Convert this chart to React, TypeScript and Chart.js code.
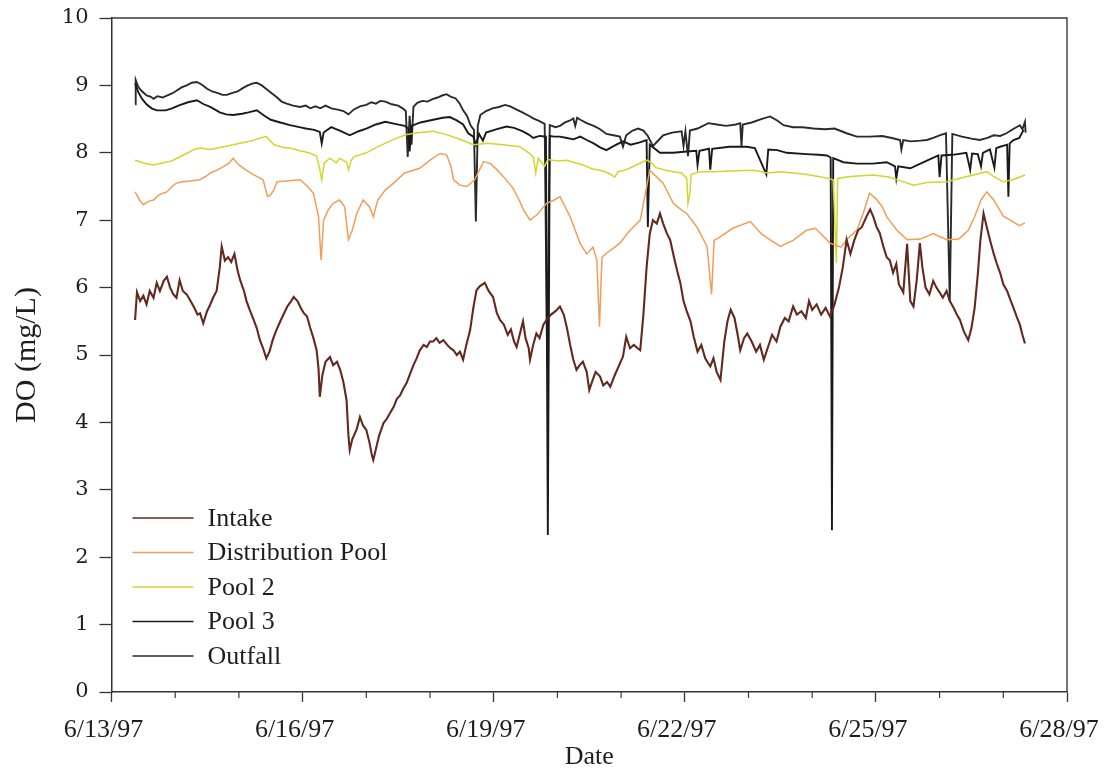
import { useEffect, useRef } from "react";
import { Chart, registerables } from "chart.js";

Chart.register(...registerables);

// x values are days after 6/13/97 00:00
const dateLabels = ["6/13/97", "6/16/97", "6/19/97", "6/22/97", "6/25/97", "6/28/97"];
const seriesNames = ["Intake", "Distribution Pool", "Pool 2", "Pool 3", "Outfall"];
const seriesColors = ["#62291f", "#f29d58", "#d2d52e", "#1a1a1a", "#2a2a2a"];
const seriesWidths = [2.1, 1.5, 1.5, 1.9, 1.9];

const intake: number[][] = [
  [0.37, 5.52], [0.40, 5.93], [0.45, 5.80], [0.50, 5.88], [0.55, 5.75], [0.60, 5.95], [0.66, 5.85], [0.71, 6.07],
  [0.76, 5.95], [0.82, 6.10], [0.87, 6.16], [0.92, 6.00], [0.97, 5.90], [1.02, 5.85], [1.07, 6.11], [1.12, 5.95],
  [1.18, 5.90], [1.23, 5.82], [1.30, 5.70], [1.35, 5.60], [1.39, 5.62], [1.44, 5.47], [1.50, 5.65], [1.55, 5.75],
  [1.60, 5.86], [1.65, 5.95], [1.70, 6.30], [1.73, 6.61], [1.78, 6.40], [1.83, 6.45], [1.88, 6.38], [1.93, 6.50],
  [1.98, 6.25], [2.02, 6.11], [2.08, 5.95], [2.12, 5.80], [2.17, 5.67], [2.22, 5.55], [2.28, 5.40], [2.33, 5.22],
  [2.38, 5.10], [2.43, 4.95], [2.48, 5.05], [2.53, 5.22], [2.58, 5.35], [2.65, 5.50], [2.70, 5.60], [2.76, 5.72],
  [2.82, 5.80], [2.86, 5.86], [2.92, 5.80], [2.97, 5.70], [3.02, 5.62], [3.07, 5.57], [3.12, 5.40], [3.17, 5.25],
  [3.22, 5.07], [3.25, 4.80], [3.27, 4.38], [3.31, 4.70], [3.36, 4.90], [3.43, 4.97], [3.48, 4.85], [3.54, 4.90],
  [3.59, 4.78], [3.64, 4.60], [3.69, 4.33], [3.72, 3.80], [3.74, 3.59], [3.78, 3.75], [3.85, 3.90], [3.90, 4.08],
  [3.95, 3.95], [4.00, 3.89], [4.05, 3.70], [4.09, 3.50], [4.11, 3.44], [4.15, 3.60], [4.20, 3.80], [4.27, 3.99],
  [4.32, 4.05], [4.38, 4.15], [4.43, 4.23], [4.48, 4.35], [4.53, 4.40], [4.58, 4.50], [4.63, 4.58], [4.68, 4.70],
  [4.74, 4.85], [4.79, 4.95], [4.84, 5.07], [4.90, 5.15], [4.95, 5.12], [5.00, 5.20], [5.05, 5.20], [5.10, 5.25],
  [5.15, 5.18], [5.21, 5.22], [5.27, 5.15], [5.32, 5.10], [5.37, 5.07], [5.42, 5.00], [5.47, 5.05], [5.52, 4.93],
  [5.57, 5.15], [5.63, 5.37], [5.68, 5.70], [5.73, 5.96], [5.78, 6.02], [5.86, 6.07], [5.92, 5.95], [5.99, 5.86],
  [6.05, 5.62], [6.10, 5.52], [6.16, 5.45], [6.22, 5.30], [6.27, 5.38], [6.32, 5.20], [6.36, 5.12], [6.42, 5.35],
  [6.46, 5.50], [6.50, 5.25], [6.55, 5.10], [6.57, 4.93], [6.62, 5.15], [6.67, 5.32], [6.72, 5.25], [6.78, 5.45],
  [6.83, 5.52], [6.90, 5.60], [6.97, 5.65], [7.04, 5.72], [7.10, 5.60], [7.15, 5.40], [7.20, 5.15], [7.25, 4.93],
  [7.30, 4.78], [7.35, 4.85], [7.40, 4.90], [7.46, 4.75], [7.50, 4.48], [7.55, 4.62], [7.60, 4.75], [7.67, 4.68],
  [7.72, 4.55], [7.78, 4.60], [7.83, 4.53], [7.90, 4.70], [7.97, 4.85], [8.03, 4.98], [8.08, 5.27], [8.14, 5.10],
  [8.20, 5.15], [8.26, 5.10], [8.30, 5.07], [8.35, 5.60], [8.40, 6.30], [8.45, 6.80], [8.50, 7.00], [8.56, 6.95],
  [8.61, 7.10], [8.66, 6.95], [8.72, 6.80], [8.77, 6.71], [8.83, 6.45], [8.88, 6.25], [8.93, 6.07], [8.98, 5.80],
  [9.03, 5.65], [9.09, 5.50], [9.14, 5.27], [9.20, 5.05], [9.26, 5.15], [9.32, 4.95], [9.40, 4.83], [9.45, 4.95],
  [9.50, 4.75], [9.56, 4.63], [9.62, 5.20], [9.67, 5.50], [9.72, 5.67], [9.78, 5.55], [9.83, 5.30], [9.87, 5.07],
  [9.93, 5.25], [9.98, 5.32], [10.05, 5.20], [10.12, 5.05], [10.18, 5.15], [10.24, 4.93], [10.30, 5.10], [10.37, 5.30],
  [10.44, 5.20], [10.50, 5.42], [10.57, 5.55], [10.63, 5.50], [10.70, 5.72], [10.76, 5.60], [10.83, 5.65], [10.90, 5.55],
  [10.95, 5.80], [11.00, 5.67], [11.07, 5.75], [11.14, 5.60], [11.21, 5.70], [11.28, 5.57], [11.35, 5.75], [11.42, 6.00],
  [11.48, 6.30], [11.54, 6.71], [11.60, 6.50], [11.66, 6.70], [11.72, 6.85], [11.78, 6.90], [11.85, 7.05], [11.91, 7.16],
  [11.96, 7.05], [12.01, 6.90], [12.06, 6.81], [12.12, 6.60], [12.17, 6.45], [12.22, 6.40], [12.27, 6.22], [12.32, 6.35],
  [12.36, 6.05], [12.43, 5.93], [12.49, 6.65], [12.54, 5.80], [12.59, 5.72], [12.64, 6.10], [12.69, 6.66], [12.73, 6.30],
  [12.78, 6.00], [12.84, 5.90], [12.90, 6.10], [12.95, 6.00], [13.00, 5.93], [13.05, 5.85], [13.11, 5.95], [13.16, 5.80],
  [13.22, 5.70], [13.27, 5.60], [13.32, 5.52], [13.38, 5.35], [13.45, 5.22], [13.50, 5.40], [13.55, 5.70], [13.60, 6.20],
  [13.64, 6.70], [13.69, 7.10], [13.74, 6.90], [13.79, 6.71], [13.85, 6.50], [13.90, 6.35], [13.95, 6.22], [14.00, 6.05],
  [14.06, 5.95], [14.11, 5.82], [14.16, 5.70], [14.21, 5.57], [14.26, 5.45], [14.30, 5.30], [14.34, 5.17],
];

const distributionPool: number[][] = [
  [0.37, 7.42], [0.44, 7.30], [0.50, 7.23], [0.58, 7.28], [0.66, 7.30], [0.75, 7.38], [0.87, 7.42], [0.95, 7.50],
  [1.02, 7.55], [1.12, 7.57], [1.23, 7.58], [1.39, 7.60], [1.50, 7.66], [1.55, 7.70], [1.65, 7.74], [1.75, 7.79],
  [1.85, 7.85], [1.91, 7.92], [2.00, 7.82], [2.10, 7.75], [2.22, 7.68], [2.38, 7.60], [2.45, 7.35], [2.50, 7.38],
  [2.55, 7.45], [2.60, 7.57], [2.75, 7.58], [2.96, 7.60], [3.08, 7.50], [3.17, 7.40], [3.25, 7.05], [3.29, 6.41],
  [3.33, 7.00], [3.40, 7.15], [3.48, 7.25], [3.58, 7.30], [3.66, 7.20], [3.72, 6.71], [3.78, 6.85], [3.85, 7.10],
  [3.95, 7.30], [4.05, 7.20], [4.11, 7.05], [4.18, 7.30], [4.30, 7.45], [4.43, 7.55], [4.60, 7.70], [4.84, 7.77],
  [5.00, 7.89], [5.16, 7.99], [5.26, 7.97], [5.33, 7.80], [5.37, 7.60], [5.47, 7.52], [5.58, 7.50], [5.70, 7.60],
  [5.84, 7.87], [5.95, 7.84], [6.05, 7.75], [6.15, 7.65], [6.30, 7.48], [6.40, 7.30], [6.47, 7.15], [6.57, 7.00],
  [6.68, 7.08], [6.83, 7.25], [6.95, 7.30], [7.04, 7.35], [7.12, 7.20], [7.20, 7.05], [7.30, 6.80], [7.36, 6.65],
  [7.46, 6.50], [7.56, 6.60], [7.62, 6.40], [7.66, 5.42], [7.70, 6.45], [7.77, 6.51], [7.90, 6.60], [7.98, 6.66],
  [8.14, 6.85], [8.30, 7.00], [8.45, 7.74], [8.55, 7.65], [8.66, 7.55], [8.82, 7.25], [8.95, 7.15], [9.03, 7.10],
  [9.19, 6.90], [9.35, 6.61], [9.42, 5.90], [9.46, 6.70], [9.55, 6.75], [9.75, 6.88], [10.03, 6.98], [10.20, 6.80],
  [10.35, 6.70], [10.50, 6.61], [10.70, 6.70], [10.91, 6.85], [11.05, 6.88], [11.28, 6.66], [11.45, 6.60], [11.55, 6.72],
  [11.70, 6.85], [11.80, 7.10], [11.90, 7.40], [12.00, 7.32], [12.10, 7.20], [12.17, 7.05], [12.33, 6.85], [12.49, 6.71],
  [12.70, 6.72], [12.90, 6.80], [13.11, 6.71], [13.30, 6.72], [13.45, 6.85], [13.55, 7.05], [13.65, 7.30], [13.74, 7.42],
  [13.85, 7.30], [14.00, 7.06], [14.15, 6.98], [14.25, 6.92], [14.34, 6.96],
];

const pool2: number[][] = [
  [0.37, 7.89], [0.50, 7.85], [0.66, 7.82], [0.80, 7.85], [0.95, 7.88], [1.05, 7.93], [1.18, 7.99], [1.30, 8.05],
  [1.39, 8.07], [1.55, 8.05], [1.70, 8.08], [1.91, 8.12], [2.05, 8.15], [2.17, 8.17], [2.33, 8.22], [2.43, 8.24],
  [2.55, 8.12], [2.70, 8.08], [2.80, 8.07], [2.96, 8.03], [3.10, 8.00], [3.22, 7.95], [3.27, 7.75], [3.30, 7.60],
  [3.34, 7.85], [3.43, 7.92], [3.53, 7.85], [3.58, 7.92], [3.69, 7.86], [3.72, 7.75], [3.76, 7.88], [3.80, 7.94],
  [4.00, 8.00], [4.20, 8.10], [4.43, 8.20], [4.63, 8.27], [4.84, 8.30], [5.05, 8.32], [5.26, 8.27], [5.47, 8.20],
  [5.68, 8.12], [5.90, 8.14], [6.15, 8.12], [6.41, 8.09], [6.55, 8.00], [6.62, 7.94], [6.66, 7.70], [6.70, 7.92],
  [6.80, 7.80], [6.85, 7.90], [7.00, 7.88], [7.15, 7.89], [7.40, 7.82], [7.55, 7.76], [7.67, 7.74], [7.80, 7.70],
  [7.90, 7.64], [7.95, 7.72], [8.05, 7.74], [8.20, 7.80], [8.35, 7.87], [8.42, 7.89], [8.55, 7.78], [8.70, 7.74],
  [8.82, 7.72], [8.95, 7.70], [9.03, 7.62], [9.05, 7.25], [9.08, 7.40], [9.10, 7.68], [9.25, 7.72], [9.45, 7.72],
  [9.70, 7.73], [10.08, 7.74], [10.30, 7.70], [10.50, 7.72], [10.90, 7.68], [11.20, 7.63], [11.33, 7.60], [11.38, 6.36],
  [11.40, 7.62], [11.60, 7.65], [11.96, 7.67], [12.20, 7.64], [12.40, 7.58], [12.59, 7.52], [12.80, 7.56], [13.11, 7.57],
  [13.40, 7.64], [13.74, 7.72], [13.85, 7.65], [14.00, 7.57], [14.15, 7.60], [14.34, 7.67],
];

const pool3: number[][] = [
  [0.37, 9.03], [0.42, 8.90], [0.48, 8.80], [0.55, 8.72], [0.63, 8.66], [0.71, 8.63], [0.85, 8.63], [0.95, 8.66],
  [1.05, 8.70], [1.20, 8.75], [1.34, 8.78], [1.45, 8.72], [1.55, 8.68], [1.70, 8.60], [1.80, 8.57], [1.91, 8.56],
  [2.05, 8.58], [2.15, 8.60], [2.28, 8.63], [2.40, 8.55], [2.50, 8.49], [2.65, 8.45], [2.80, 8.41], [2.95, 8.38],
  [3.05, 8.36], [3.18, 8.34], [3.27, 8.31], [3.30, 8.14], [3.33, 8.30], [3.45, 8.38], [3.60, 8.32], [3.74, 8.26],
  [3.88, 8.32], [4.00, 8.36], [4.15, 8.42], [4.30, 8.46], [4.45, 8.43], [4.60, 8.40], [4.66, 8.36], [4.68, 8.02],
  [4.71, 8.40], [4.85, 8.45], [5.05, 8.49], [5.20, 8.52], [5.31, 8.53], [5.42, 8.48], [5.52, 8.42], [5.60, 8.29],
  [5.68, 8.24], [5.72, 8.12], [5.77, 8.28], [5.83, 8.18], [5.88, 8.30], [6.05, 8.35], [6.20, 8.39], [6.32, 8.37],
  [6.45, 8.32], [6.55, 8.27], [6.62, 8.22], [6.72, 8.25], [6.82, 8.24], [6.85, 2.33], [6.88, 8.25], [6.95, 8.24],
  [7.04, 8.24], [7.15, 8.22], [7.25, 8.20], [7.36, 8.24], [7.46, 8.19], [7.57, 8.14], [7.67, 8.08], [7.77, 8.04],
  [7.88, 8.10], [8.03, 8.17], [8.15, 8.12], [8.28, 8.15], [8.40, 8.19], [8.42, 6.90], [8.45, 8.12], [8.61, 8.00],
  [8.82, 8.00], [9.03, 8.02], [9.18, 8.03], [9.20, 7.82], [9.23, 8.03], [9.38, 8.06], [9.40, 7.75], [9.43, 8.06],
  [9.70, 8.09], [9.97, 8.09], [10.10, 8.07], [10.28, 7.68], [10.31, 8.05], [10.45, 8.04], [10.60, 8.00], [10.91, 7.98],
  [11.10, 7.97], [11.23, 7.96], [11.29, 7.93], [11.31, 2.40], [11.33, 7.92], [11.49, 7.86], [11.70, 7.84], [11.95, 7.84],
  [12.17, 7.86], [12.30, 7.80], [12.32, 7.62], [12.35, 7.80], [12.54, 7.77], [12.75, 7.86], [12.98, 7.96], [13.00, 7.64],
  [13.03, 7.96], [13.20, 7.97], [13.42, 8.00], [13.48, 7.75], [13.51, 7.99], [13.60, 7.98], [13.65, 7.80], [13.68, 8.00],
  [13.79, 8.05], [13.86, 7.78], [13.89, 8.07], [13.95, 8.09], [14.06, 8.12], [14.08, 7.35], [14.10, 8.14], [14.16, 8.19],
  [14.25, 8.22], [14.32, 8.34],
];

const outfall: number[][] = [
  [0.37, 8.72], [0.38, 9.08], [0.42, 8.98], [0.47, 8.92], [0.55, 8.85], [0.62, 8.83], [0.66, 8.80], [0.72, 8.84],
  [0.80, 8.82], [0.87, 8.85], [0.95, 8.88], [1.02, 8.92], [1.10, 8.97], [1.18, 9.00], [1.26, 9.04], [1.34, 9.05],
  [1.42, 9.01], [1.50, 8.95], [1.58, 8.91], [1.66, 8.89], [1.74, 8.86], [1.81, 8.86], [1.90, 8.89], [1.98, 8.91],
  [2.06, 8.96], [2.14, 9.00], [2.22, 9.03], [2.28, 9.04], [2.36, 9.00], [2.44, 8.94], [2.52, 8.88], [2.60, 8.82],
  [2.67, 8.76], [2.75, 8.73], [2.85, 8.70], [2.96, 8.68], [3.05, 8.70], [3.12, 8.66], [3.20, 8.69], [3.28, 8.66],
  [3.36, 8.70], [3.45, 8.66], [3.55, 8.64], [3.64, 8.62], [3.72, 8.57], [3.80, 8.64], [3.90, 8.69], [4.00, 8.71],
  [4.08, 8.75], [4.15, 8.73], [4.22, 8.77], [4.30, 8.76], [4.40, 8.72], [4.50, 8.70], [4.57, 8.66], [4.62, 8.62],
  [4.65, 7.94], [4.68, 8.55], [4.71, 8.12], [4.74, 8.68], [4.80, 8.74], [4.88, 8.77], [4.96, 8.76], [5.05, 8.80],
  [5.12, 8.82], [5.19, 8.85], [5.26, 8.87], [5.33, 8.83], [5.40, 8.81], [5.46, 8.74], [5.52, 8.63], [5.58, 8.55],
  [5.64, 8.40], [5.69, 8.34], [5.72, 6.98], [5.75, 8.40], [5.79, 8.56], [5.88, 8.62], [5.98, 8.66], [6.08, 8.68],
  [6.18, 8.71], [6.26, 8.69], [6.36, 8.64], [6.45, 8.60], [6.55, 8.55], [6.62, 8.51], [6.72, 8.47], [6.80, 8.43],
  [6.84, 4.88], [6.88, 8.41], [6.97, 8.38], [7.04, 8.40], [7.12, 8.45], [7.20, 8.48], [7.25, 8.51], [7.28, 8.40],
  [7.31, 8.52], [7.36, 8.49], [7.46, 8.44], [7.57, 8.40], [7.67, 8.35], [7.77, 8.28], [7.88, 8.26], [7.98, 8.24],
  [8.03, 8.09], [8.08, 8.26], [8.18, 8.33], [8.27, 8.36], [8.35, 8.33], [8.42, 8.25], [8.50, 8.10], [8.56, 8.16],
  [8.66, 8.26], [8.80, 8.30], [8.95, 8.32], [8.98, 8.10], [9.01, 8.32], [9.05, 7.95], [9.08, 8.33], [9.20, 8.36],
  [9.37, 8.44], [9.50, 8.42], [9.65, 8.40], [9.80, 8.42], [9.87, 8.44], [9.89, 8.10], [9.91, 8.42], [10.05, 8.45],
  [10.20, 8.50], [10.34, 8.54], [10.45, 8.48], [10.55, 8.41], [10.70, 8.38], [10.85, 8.38], [11.02, 8.36], [11.20, 8.35],
  [11.35, 8.36], [11.54, 8.29], [11.70, 8.24], [11.90, 8.24], [12.10, 8.25], [12.25, 8.22], [12.38, 8.19], [12.40, 8.05],
  [12.43, 8.19], [12.55, 8.17], [12.70, 8.18], [12.80, 8.19], [12.90, 8.22], [13.00, 8.26], [13.10, 8.29], [13.16, 5.80],
  [13.20, 8.28], [13.35, 8.24], [13.50, 8.21], [13.63, 8.19], [13.75, 8.22], [13.85, 8.26], [13.95, 8.25], [14.05, 8.29],
  [14.15, 8.35], [14.26, 8.41], [14.30, 8.35], [14.34, 8.46], [14.35, 8.30],
];

const allSeries = [intake, distributionPool, pool2, pool3, outfall];

const serif = '"Liberation Serif", "Times New Roman", serif';
const ink = "#1e1e1e";

const frameAndMinorTicks = {
  id: "frameAndMinorTicks",
  afterDraw(chart: any) {
    const { ctx, chartArea, scales } = chart;
    const xs = scales.x;
    ctx.save();
    ctx.strokeStyle = "#3a3a3a";
    ctx.lineWidth = 1.4;
    ctx.beginPath();
    ctx.moveTo(chartArea.left, chartArea.top);
    ctx.lineTo(chartArea.right, chartArea.top);
    ctx.lineTo(chartArea.right, chartArea.bottom);
    ctx.stroke();
    ctx.lineWidth = 1.2;
    for (let d = 1; d < 15; d++) {
      if (d % 3 === 0) continue;
      const px = xs.getPixelForValue(d);
      ctx.beginPath();
      ctx.moveTo(px, chartArea.bottom);
      ctx.lineTo(px, chartArea.bottom + 6);
      ctx.stroke();
    }
    ctx.restore();
  },
};

const insideLegend = {
  id: "insideLegend",
  afterDatasetsDraw(chart: any) {
    const { ctx, chartArea } = chart;
    const ds = chart.data.datasets;
    const n = ds.length;
    const rowH = 34.5;
    ctx.save();
    ctx.font = `26px ${serif}`;
    ctx.textBaseline = "middle";
    ctx.textAlign = "left";
    ds.forEach((d: any, i: number) => {
      const y = chartArea.bottom - 36 - (n - 1 - i) * rowH;
      ctx.strokeStyle = d.borderColor;
      ctx.lineWidth = 1.6;
      ctx.beginPath();
      ctx.moveTo(chartArea.left + 21, y);
      ctx.lineTo(chartArea.left + 82, y);
      ctx.stroke();
      ctx.fillStyle = ink;
      ctx.fillText(d.label, chartArea.left + 96, y + 1);
    });
    ctx.restore();
  },
};

export default function App() {
  const ref = useRef<HTMLCanvasElement | null>(null);

  useEffect(() => {
    if (!ref.current) return;
    const chart = new Chart(ref.current, {
      type: "line",
      data: {
        datasets: allSeries.map((s, i) => ({
          label: seriesNames[i],
          data: s.map(([x, y]) => ({ x, y })),
          borderColor: seriesColors[i],
          backgroundColor: seriesColors[i],
          borderWidth: seriesWidths[i],
          pointRadius: 0,
          tension: 0,
          fill: false,
        })),
      },
      options: {
        animation: false,
        responsive: false,
        layout: { padding: { top: 18, right: 40, left: 0, bottom: 0 } },
        plugins: { legend: { display: false }, tooltip: { enabled: false } },
        scales: {
          x: {
            type: "linear",
            min: 0,
            max: 15,
            afterFit: (s: any) => {
              s.height = 81;
              s.paddingLeft = 0;
              s.paddingRight = 0;
            },
            border: { display: true, color: "#333", width: 1.5 },
            grid: { drawOnChartArea: false, drawTicks: true, tickLength: 10, color: "#333", tickWidth: 1.3 },
            ticks: {
              stepSize: 3,
              autoSkip: false,
              maxRotation: 0,
              padding: 13,
              labelOffset: -8,
              color: ink,
              font: { family: serif, size: 26 },
              callback: (v: any) => dateLabels[Math.round(Number(v) / 3)] ?? "",
            },
            title: {
              display: true,
              text: "Date",
              color: ink,
              font: { family: serif, size: 26 },
              padding: { top: 0, bottom: 0 },
            },
          },
          y: {
            min: 0,
            max: 10,
            afterFit: (s: any) => {
              s.width = 111.5;
              s.paddingTop = 0;
              s.paddingBottom = 0;
            },
            border: { display: true, color: "#333", width: 1.5 },
            grid: { drawOnChartArea: false, drawTicks: true, tickLength: 12, color: "#333", tickWidth: 1.3 },
            ticks: {
              stepSize: 1,
              padding: 11,
              color: ink,
              font: { family: '"DejaVu Serif", serif', size: 21 },
            },
            title: {
              display: true,
              text: "DO (mg/L)",
              color: ink,
              font: { family: serif, size: 30 },
              padding: { top: 9, bottom: 0 },
            },
          },
        },
      },
      plugins: [frameAndMinorTicks, insideLegend],
    });
    return () => chart.destroy();
  }, []);

  return (
    <div style={{ position: "fixed", left: 0, top: 0, width: 1107, height: 773, background: "#fff" }}>
      <canvas ref={ref} width={1107} height={773} style={{ display: "block" }} />
    </div>
  );
}
